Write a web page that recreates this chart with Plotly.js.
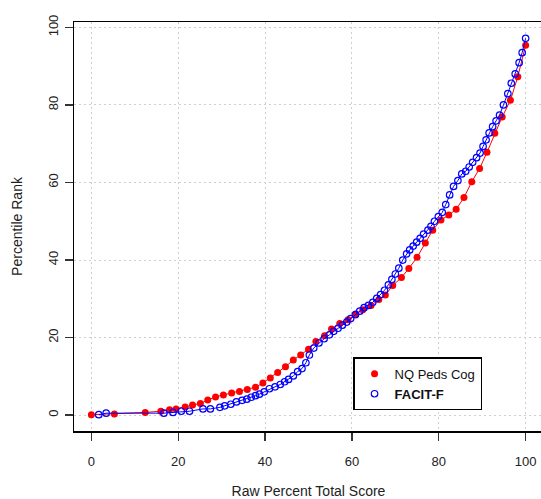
<!DOCTYPE html>
<html>
<head>
<meta charset="utf-8">
<script src="https://cdn.plot.ly/plotly-3.0.1.min.js"></script>
<style>
  html, body { margin: 0; padding: 0; overflow: hidden; background: #fff; }
  #chart { width: 560px; height: 499px; }
</style>
</head>
<body>
<div id="chart"></div>
<script>
// NQ Peds Cog: raw percent total score vs. percentile rank
const nqScore = [0, 5.3, 12.4, 16, 18, 19.5, 21.6, 23.3, 25.1, 26.8, 28.6, 30.4, 32.3, 34.1, 35.9,
  37.8, 39.5, 41.2, 42.9, 44.7, 46.5, 48.2, 50.0, 51.7, 53.7, 55.3, 57.2, 59.1, 60.9, 62.5, 64.4,
  66.2, 67.7, 69.4, 71.4, 73.1, 75.0, 76.9, 78.6, 80.5, 82.3, 84.0, 85.8, 87.6, 89.4, 91.1, 92.9,
  94.6, 96.5, 98.2, 100];
const nqRank = [0.1, 0.3, 0.7, 1.0, 1.4, 1.6, 2.1, 2.6, 3.0, 3.9, 4.7, 5.2, 5.7, 6.1, 6.6,
  7.2, 8.3, 9.6, 11.0, 12.5, 14.2, 15.5, 17.0, 19.0, 20.5, 22.2, 23.6, 24.6, 26.1, 27.2, 28.3,
  29.8, 31.0, 33.4, 35.5, 37.8, 40.7, 44.4, 47.7, 50.3, 51.6, 53.1, 56.1, 60.2, 63.6, 67.8, 72.7,
  76.9, 81.2, 87.3, 95.4];

// FACIT-F: raw percent total score vs. percentile rank
const facitScore = [1.7, 3.4, 16.7, 18.8, 20.7, 22.6, 25.7, 27.4, 29.6, 30.7, 32.1, 33.4, 34.7,
  35.8, 36.8, 37.8, 38.7, 39.8, 41.0, 42.3, 43.5, 44.5, 45.4, 46.5, 47.5, 48.5, 49.4, 50.2, 51.2,
  52.4, 53.6, 54.8, 55.8, 56.8, 57.8, 58.8, 59.7, 60.8, 61.8, 62.8, 63.8, 64.8, 65.7, 66.6, 67.5,
  68.4, 69.2, 70.0, 70.8, 71.7, 72.6, 73.3, 74.1, 74.9, 75.7, 76.5, 77.5, 78.2, 79.0, 79.9, 80.8,
  81.6, 82.5, 83.4, 84.4, 85.3, 86.2, 87.0, 87.8, 88.7, 89.5, 90.2, 90.9, 91.6, 92.4, 93.2, 94.0,
  94.9, 95.9, 96.7, 97.6, 98.5, 99.2, 100];
const facitRank = [0.1, 0.5, 0.5, 0.7, 1.0, 1.0, 1.6, 1.6, 2.0, 2.4, 2.8, 3.4, 3.8,
  4.1, 4.6, 5.0, 5.4, 6.0, 6.8, 7.3, 7.9, 8.6, 9.2, 10.1, 11.2, 12.0, 13.5, 15.5, 17.3,
  18.6, 19.7, 20.7, 21.6, 22.4, 23.2, 24.0, 24.9, 25.9, 26.8, 27.7, 28.3, 29.1, 30.1, 31.1, 32.2,
  33.6, 35.0, 36.4, 37.9, 40.0, 41.6, 42.6, 43.6, 44.6, 45.6, 46.7, 47.7, 48.7, 50.0, 51.2, 52.3,
  54.3, 56.8, 59.0, 60.5, 62.2, 62.9, 64.0, 65.2, 66.4, 67.6, 69.3, 71.0, 72.8, 74.4, 75.9, 77.4,
  80.0, 82.9, 85.6, 88.0, 90.9, 93.5, 97.2];

const axisTicks = [0, 20, 40, 60, 80, 100];
const xTitle = 'Raw Percent Total Score';
const yTitle = 'Percentile Rank';
const seriesNames = ['NQ Peds Cog', '<b>FACIT-F</b>'];

const RED = '#ff0000';
const BLUE = '#0000ff';
const FONT = 'Liberation Sans, Arial, sans-serif';

const traces = [
  {
    x: nqScore, y: nqRank, type: 'scatter', mode: 'lines+markers',
    line: { color: RED, width: 1 },
    marker: { color: RED, size: 7, symbol: 'circle' },
    showlegend: false, hoverinfo: 'x+y'
  },
  {
    x: facitScore, y: facitRank, type: 'scatter', mode: 'lines+markers',
    line: { color: BLUE, width: 1 },
    marker: { color: BLUE, size: 6.5, symbol: 'circle-open', line: { width: 1.2, color: BLUE } },
    showlegend: false, hoverinfo: 'x+y'
  },
  // legend keys (points only)
  {
    x: [null], y: [null], type: 'scatter', mode: 'markers', name: seriesNames[0],
    marker: { color: RED, size: 7, symbol: 'circle' }
  },
  {
    x: [null], y: [null], type: 'scatter', mode: 'markers', name: seriesNames[1],
    marker: { color: BLUE, size: 6.5, symbol: 'circle-open', line: { width: 1.2, color: BLUE } }
  }
];

const axisCommon = {
  tickvals: axisTicks,
  ticks: 'outside',
  ticklen: 8,
  tickwidth: 1.3,
  tickcolor: '#333',
  showline: true,
  linecolor: '#000',
  linewidth: 1.5,
  mirror: true,
  showgrid: true,
  gridcolor: '#cfcfcf',
  gridwidth: 1,
  griddash: '2px,3px',
  zeroline: false,
  tickfont: { family: FONT, size: 13, color: '#222' }
};

const layout = {
  width: 560,
  height: 499,
  margin: { l: 74, r: 17, t: 22, b: 68 },
  paper_bgcolor: '#ffffff',
  plot_bgcolor: '#ffffff',
  font: { family: FONT, color: '#222' },
  xaxis: Object.assign({}, axisCommon, {
    range: [-4, 104],
    ticklabelstandoff: 10,
    title: { text: xTitle, font: { family: FONT, size: 14, color: '#222' }, standoff: 20 }
  }),
  yaxis: Object.assign({}, axisCommon, {
    range: [-4.1, 101.4],
    tickangle: -90,
    ticklabelstandoff: 1,
    title: { text: yTitle, font: { family: FONT, size: 14, color: '#222' }, standoff: 20 }
  }),
  legend: {
    x: 0.595, y: 0.18, xanchor: 'left', yanchor: 'top',
    bgcolor: '#ffffff', bordercolor: '#000', borderwidth: 1.5,
    font: { family: FONT, size: 13, color: '#111' },
    itemwidth: 30,
    tracegroupgap: 0
  },
  showlegend: true
};

Plotly.newPlot('chart', traces, layout, { displayModeBar: false, staticPlot: true });
</script>
</body>
</html>
